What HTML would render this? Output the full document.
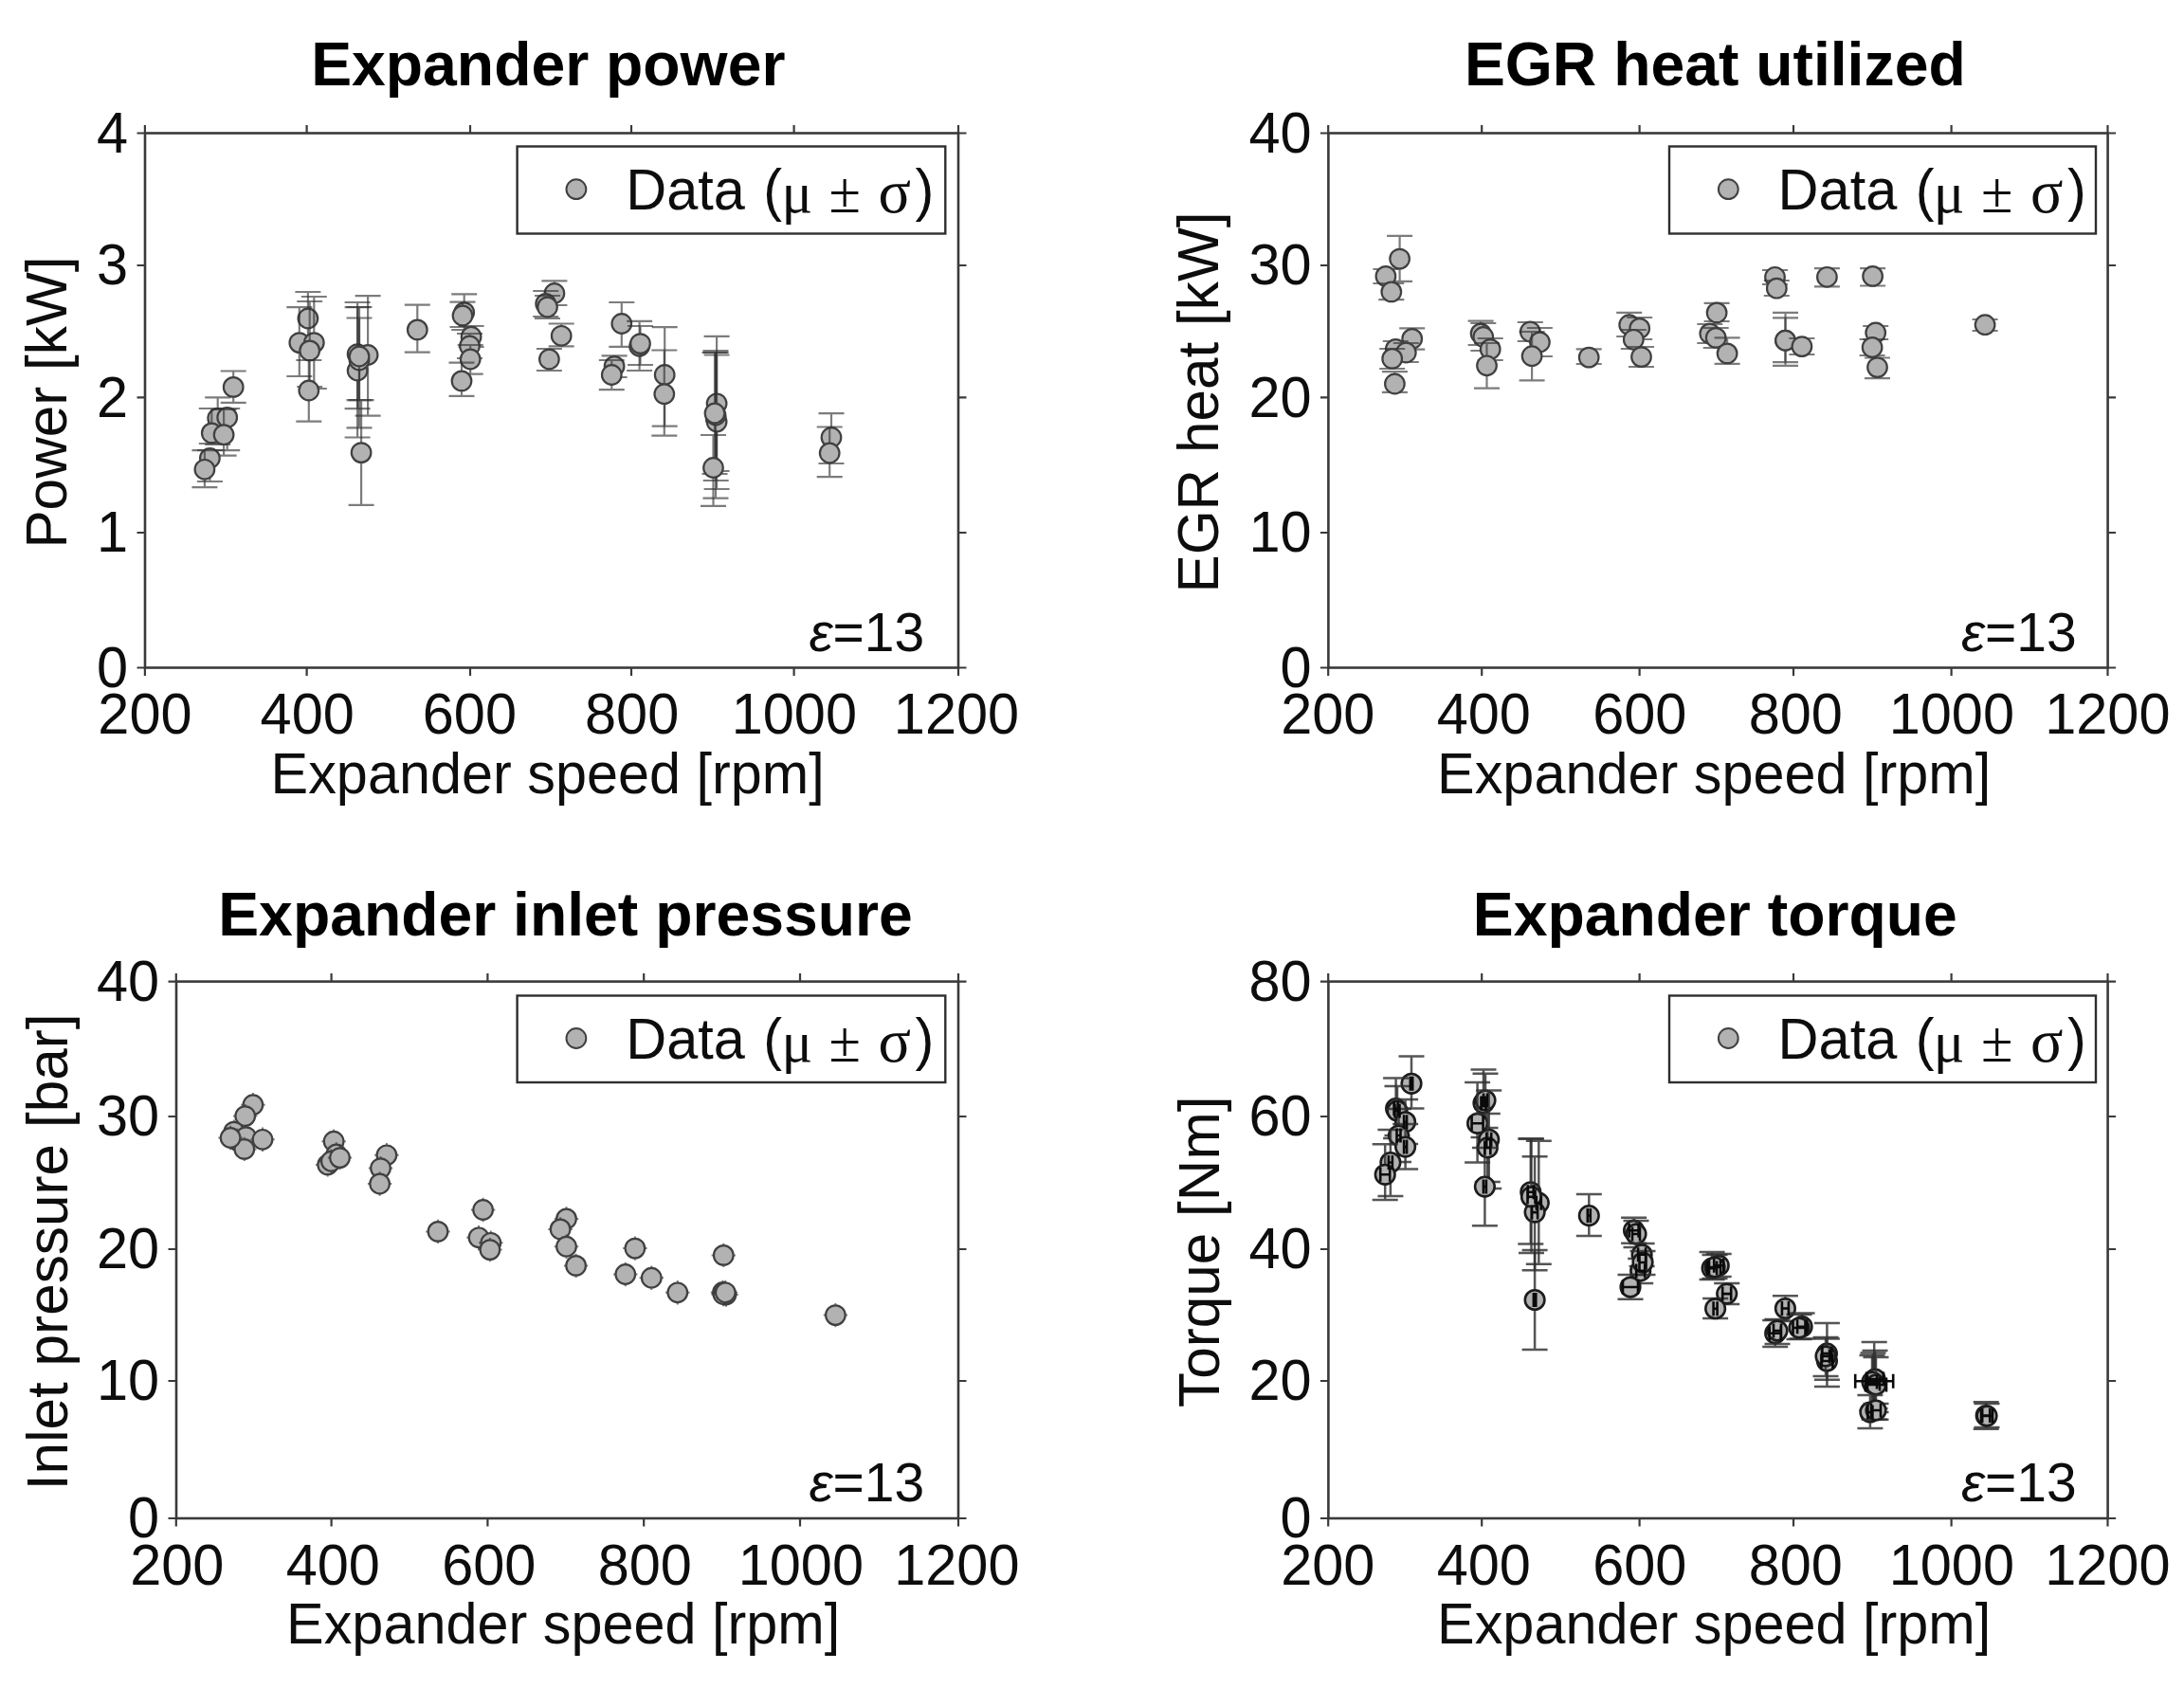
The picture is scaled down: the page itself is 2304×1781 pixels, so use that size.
<!DOCTYPE html>
<html lang="en"><head><meta charset="utf-8"><title>Expander measurements</title>
<style>html,body{margin:0;padding:0;background:#fff}body{width:2304px;height:1781px;overflow:hidden}svg{display:block;font-family:"Liberation Sans",sans-serif}</style>
</head><body>
<svg width="2304" height="1781" viewBox="0 0 2304 1781">
<rect width="2304" height="1781" fill="#fff"/>
<g id="plot-power">
<path d="M246.2 391.5V424.8M232.7 391.5h27M232.7 424.8h27" stroke="#303030" stroke-opacity="0.63" stroke-width="2.2" fill="none"/><circle cx="246.2" cy="408.4" r="10.3" fill="#b2b2b2" stroke="#404040" stroke-width="2.2"/>
<path d="M229.7 419.3V469M216.2 419.3h27M216.2 469h27" stroke="#303030" stroke-opacity="0.63" stroke-width="2.2" fill="none"/><circle cx="229.7" cy="441.3" r="10.3" fill="#b2b2b2" stroke="#404040" stroke-width="2.2"/>
<path d="M239.7 431V475.2M226.2 431h27M226.2 475.2h27" stroke="#303030" stroke-opacity="0.63" stroke-width="2.2" fill="none"/><circle cx="239.7" cy="440.4" r="10.3" fill="#b2b2b2" stroke="#404040" stroke-width="2.2"/>
<path d="M223.3 431V468M209.8 431h27M209.8 468h27" stroke="#303030" stroke-opacity="0.63" stroke-width="2.2" fill="none"/><circle cx="223.3" cy="456.9" r="10.3" fill="#b2b2b2" stroke="#404040" stroke-width="2.2"/>
<path d="M236.1 432V480.7M222.6 432h27M222.6 480.7h27" stroke="#303030" stroke-opacity="0.63" stroke-width="2.2" fill="none"/><circle cx="236.1" cy="458.7" r="10.3" fill="#b2b2b2" stroke="#404040" stroke-width="2.2"/>
<path d="M221.4 475V508M207.9 475h27M207.9 508h27" stroke="#303030" stroke-opacity="0.63" stroke-width="2.2" fill="none"/><circle cx="221.4" cy="483.4" r="10.3" fill="#b2b2b2" stroke="#404040" stroke-width="2.2"/>
<path d="M215.9 475.2V514.2M202.4 475.2h27M202.4 514.2h27" stroke="#303030" stroke-opacity="0.63" stroke-width="2.2" fill="none"/><circle cx="215.9" cy="495.3" r="10.3" fill="#b2b2b2" stroke="#404040" stroke-width="2.2"/>
<path d="M324.9 308V365M311.4 308h27M311.4 365h27" stroke="#303030" stroke-opacity="0.63" stroke-width="2.2" fill="none"/><circle cx="324.9" cy="336" r="10.3" fill="#b2b2b2" stroke="#404040" stroke-width="2.2"/>
<path d="M315.8 324.1V397M302.3 324.1h27M302.3 397h27" stroke="#303030" stroke-opacity="0.63" stroke-width="2.2" fill="none"/><circle cx="315.8" cy="361.6" r="10.3" fill="#b2b2b2" stroke="#404040" stroke-width="2.2"/>
<path d="M331.3 313V410M317.8 313h27M317.8 410h27" stroke="#303030" stroke-opacity="0.63" stroke-width="2.2" fill="none"/><circle cx="331.3" cy="361.6" r="10.3" fill="#b2b2b2" stroke="#404040" stroke-width="2.2"/>
<path d="M326.7 318V408M313.2 318h27M313.2 408h27" stroke="#303030" stroke-opacity="0.63" stroke-width="2.2" fill="none"/><circle cx="326.7" cy="369.9" r="10.3" fill="#b2b2b2" stroke="#404040" stroke-width="2.2"/>
<path d="M325.8 380V444.6M312.3 380h27M312.3 444.6h27" stroke="#303030" stroke-opacity="0.63" stroke-width="2.2" fill="none"/><circle cx="325.8" cy="412" r="10.3" fill="#b2b2b2" stroke="#404040" stroke-width="2.2"/>
<path d="M377.1 319V431.2M363.6 319h27M363.6 431.2h27" stroke="#303030" stroke-opacity="0.63" stroke-width="2.2" fill="none"/><circle cx="377.1" cy="373.6" r="10.3" fill="#b2b2b2" stroke="#404040" stroke-width="2.2"/>
<path d="M388.1 312.2V438.6M374.6 312.2h27M374.6 438.6h27" stroke="#303030" stroke-opacity="0.63" stroke-width="2.2" fill="none"/><circle cx="388.1" cy="374.5" r="10.3" fill="#b2b2b2" stroke="#404040" stroke-width="2.2"/>
<path d="M377.1 324.1V461.5M363.6 324.1h27M363.6 461.5h27" stroke="#303030" stroke-opacity="0.63" stroke-width="2.2" fill="none"/><circle cx="377.1" cy="391" r="10.3" fill="#b2b2b2" stroke="#404040" stroke-width="2.2"/>
<path d="M379 335.5V422.1M365.5 335.5h27M365.5 422.1h27" stroke="#303030" stroke-opacity="0.63" stroke-width="2.2" fill="none"/><circle cx="379" cy="380" r="10.3" fill="#b2b2b2" stroke="#404040" stroke-width="2.2"/>
<path d="M379 324V451.4M365.5 324h27M365.5 451.4h27" stroke="#303030" stroke-opacity="0.63" stroke-width="2.2" fill="none"/><circle cx="379" cy="376" r="10.3" fill="#b2b2b2" stroke="#404040" stroke-width="2.2"/>
<path d="M381.1 422.1V532.9M367.6 422.1h27M367.6 532.9h27" stroke="#303030" stroke-opacity="0.63" stroke-width="2.2" fill="none"/><circle cx="381.1" cy="477.6" r="10.3" fill="#b2b2b2" stroke="#404040" stroke-width="2.2"/>
<path d="M440.3 321.7V371.7M426.8 321.7h27M426.8 371.7h27" stroke="#303030" stroke-opacity="0.63" stroke-width="2.2" fill="none"/><circle cx="440.3" cy="347.9" r="10.3" fill="#b2b2b2" stroke="#404040" stroke-width="2.2"/>
<path d="M489.7 310.4V348M476.2 310.4h27M476.2 348h27" stroke="#303030" stroke-opacity="0.63" stroke-width="2.2" fill="none"/><circle cx="489.7" cy="329.6" r="10.3" fill="#b2b2b2" stroke="#404040" stroke-width="2.2"/>
<path d="M488 318.6V345M474.5 318.6h27M474.5 345h27" stroke="#303030" stroke-opacity="0.63" stroke-width="2.2" fill="none"/><circle cx="488" cy="333" r="10.3" fill="#b2b2b2" stroke="#404040" stroke-width="2.2"/>
<path d="M497.1 344V366M483.6 344h27M483.6 366h27" stroke="#303030" stroke-opacity="0.63" stroke-width="2.2" fill="none"/><circle cx="497.1" cy="355.2" r="10.3" fill="#b2b2b2" stroke="#404040" stroke-width="2.2"/>
<path d="M495.5 352V378M482 352h27M482 378h27" stroke="#303030" stroke-opacity="0.63" stroke-width="2.2" fill="none"/><circle cx="495.5" cy="365" r="10.3" fill="#b2b2b2" stroke="#404040" stroke-width="2.2"/>
<path d="M496.2 364V394.6M482.7 364h27M482.7 394.6h27" stroke="#303030" stroke-opacity="0.63" stroke-width="2.2" fill="none"/><circle cx="496.2" cy="379" r="10.3" fill="#b2b2b2" stroke="#404040" stroke-width="2.2"/>
<path d="M487 382.7V417.9M473.5 382.7h27M473.5 417.9h27" stroke="#303030" stroke-opacity="0.63" stroke-width="2.2" fill="none"/><circle cx="487" cy="401.9" r="10.3" fill="#b2b2b2" stroke="#404040" stroke-width="2.2"/>
<path d="M584.9 296.3V322M571.4 296.3h27M571.4 322h27" stroke="#303030" stroke-opacity="0.63" stroke-width="2.2" fill="none"/><circle cx="584.9" cy="309.5" r="10.3" fill="#b2b2b2" stroke="#404040" stroke-width="2.2"/>
<path d="M575.7 307V334M562.2 307h27M562.2 334h27" stroke="#303030" stroke-opacity="0.63" stroke-width="2.2" fill="none"/><circle cx="575.7" cy="320.4" r="10.3" fill="#b2b2b2" stroke="#404040" stroke-width="2.2"/>
<path d="M577.5 312V336M564 312h27M564 336h27" stroke="#303030" stroke-opacity="0.63" stroke-width="2.2" fill="none"/><circle cx="577.5" cy="324" r="10.3" fill="#b2b2b2" stroke="#404040" stroke-width="2.2"/>
<path d="M592.2 341.5V365.3M578.7 341.5h27M578.7 365.3h27" stroke="#303030" stroke-opacity="0.63" stroke-width="2.2" fill="none"/><circle cx="592.2" cy="354.3" r="10.3" fill="#b2b2b2" stroke="#404040" stroke-width="2.2"/>
<path d="M579.4 368V391M565.9 368h27M565.9 391h27" stroke="#303030" stroke-opacity="0.63" stroke-width="2.2" fill="none"/><circle cx="579.4" cy="379" r="10.3" fill="#b2b2b2" stroke="#404040" stroke-width="2.2"/>
<path d="M655.8 319V365.9M642.3 319h27M642.3 365.9h27" stroke="#303030" stroke-opacity="0.63" stroke-width="2.2" fill="none"/><circle cx="655.8" cy="341.5" r="10.3" fill="#b2b2b2" stroke="#404040" stroke-width="2.2"/>
<path d="M674.6 338.8V391M661.1 338.8h27M661.1 391h27" stroke="#303030" stroke-opacity="0.63" stroke-width="2.2" fill="none"/><circle cx="674.6" cy="365.3" r="10.3" fill="#b2b2b2" stroke="#404040" stroke-width="2.2"/>
<path d="M675.5 344V385M662 344h27M662 385h27" stroke="#303030" stroke-opacity="0.63" stroke-width="2.2" fill="none"/><circle cx="675.5" cy="362.6" r="10.3" fill="#b2b2b2" stroke="#404040" stroke-width="2.2"/>
<path d="M648.1 375.4V398M634.6 375.4h27M634.6 398h27" stroke="#303030" stroke-opacity="0.63" stroke-width="2.2" fill="none"/><circle cx="648.1" cy="386.4" r="10.3" fill="#b2b2b2" stroke="#404040" stroke-width="2.2"/>
<path d="M645.3 380V411.1M631.8 380h27M631.8 411.1h27" stroke="#303030" stroke-opacity="0.63" stroke-width="2.2" fill="none"/><circle cx="645.3" cy="395.5" r="10.3" fill="#b2b2b2" stroke="#404040" stroke-width="2.2"/>
<path d="M701.2 345.2V449.6M687.7 345.2h27M687.7 449.6h27" stroke="#303030" stroke-opacity="0.63" stroke-width="2.2" fill="none"/><circle cx="701.2" cy="395.5" r="10.3" fill="#b2b2b2" stroke="#404040" stroke-width="2.2"/>
<path d="M700.8 369.5V459.6M687.3 369.5h27M687.3 459.6h27" stroke="#303030" stroke-opacity="0.63" stroke-width="2.2" fill="none"/><circle cx="700.8" cy="415.7" r="10.3" fill="#b2b2b2" stroke="#404040" stroke-width="2.2"/>
<path d="M756.1 354.9V497M742.6 354.9h27M742.6 497h27" stroke="#303030" stroke-opacity="0.63" stroke-width="2.2" fill="none"/><circle cx="756.1" cy="425.8" r="10.3" fill="#b2b2b2" stroke="#404040" stroke-width="2.2"/>
<path d="M755.2 372V507M741.7 372h27M741.7 507h27" stroke="#303030" stroke-opacity="0.63" stroke-width="2.2" fill="none"/><circle cx="755.2" cy="441.3" r="10.3" fill="#b2b2b2" stroke="#404040" stroke-width="2.2"/>
<path d="M756.1 374.5V516M742.6 374.5h27M742.6 516h27" stroke="#303030" stroke-opacity="0.63" stroke-width="2.2" fill="none"/><circle cx="756.1" cy="445" r="10.3" fill="#b2b2b2" stroke="#404040" stroke-width="2.2"/>
<path d="M755 370V525.6M741.5 370h27M741.5 525.6h27" stroke="#303030" stroke-opacity="0.63" stroke-width="2.2" fill="none"/><circle cx="755" cy="438" r="10.3" fill="#b2b2b2" stroke="#404040" stroke-width="2.2"/>
<path d="M754 372V500M740.5 372h27M740.5 500h27" stroke="#303030" stroke-opacity="0.63" stroke-width="2.2" fill="none"/><circle cx="754" cy="436" r="10.3" fill="#b2b2b2" stroke="#404040" stroke-width="2.2"/>
<path d="M752.5 459V533.8M739 459h27M739 533.8h27" stroke="#303030" stroke-opacity="0.63" stroke-width="2.2" fill="none"/><circle cx="752.5" cy="493.5" r="10.3" fill="#b2b2b2" stroke="#404040" stroke-width="2.2"/>
<path d="M877 436.2V489M863.5 436.2h27M863.5 489h27" stroke="#303030" stroke-opacity="0.63" stroke-width="2.2" fill="none"/><circle cx="877" cy="461.5" r="10.3" fill="#b2b2b2" stroke="#404040" stroke-width="2.2"/>
<path d="M875.2 450.5V503.2M861.7 450.5h27M861.7 503.2h27" stroke="#303030" stroke-opacity="0.63" stroke-width="2.2" fill="none"/><circle cx="875.2" cy="478" r="10.3" fill="#b2b2b2" stroke="#404040" stroke-width="2.2"/>
<rect x="153" y="140.5" width="858" height="564" fill="none" stroke="#3a3a3a" stroke-width="2.6"/>
<path d="M152.9 704.5v8.5M152.9 140.5v-8.5M323.6 704.5v8.5M323.6 140.5v-8.5M496 704.5v8.5M496 140.5v-8.5M666 704.5v8.5M666 140.5v-8.5M837.6 704.5v8.5M837.6 140.5v-8.5M1011 704.5v8.5M1011 140.5v-8.5M153 704.5h-8.5M1011 704.5h8.5M153 562h-8.5M1011 562h8.5M153 419.3h-8.5M1011 419.3h8.5M153 280h-8.5M1011 280h8.5M153 140.5h-8.5M1011 140.5h8.5" stroke="#3a3a3a" stroke-width="2.2" fill="none"/>
<text transform="translate(153 774.1) scale(1 1.015)" font-size="59.5" fill="#0d0d0d" text-anchor="middle">200</text>
<text transform="translate(324.2 774.1) scale(1 1.015)" font-size="59.5" fill="#0d0d0d" text-anchor="middle">400</text>
<text transform="translate(495.4 774.1) scale(1 1.015)" font-size="59.5" fill="#0d0d0d" text-anchor="middle">600</text>
<text transform="translate(666.6 774.1) scale(1 1.015)" font-size="59.5" fill="#0d0d0d" text-anchor="middle">800</text>
<text transform="translate(837.8 774.1) scale(1 1.015)" font-size="59.5" fill="#0d0d0d" text-anchor="middle">1000</text>
<text transform="translate(1009 774.1) scale(1 1.015)" font-size="59.5" fill="#0d0d0d" text-anchor="middle">1200</text>
<text transform="translate(135.2 724.9) scale(1 1.015)" font-size="59.5" fill="#0d0d0d" text-anchor="end">0</text>
<text transform="translate(135.2 582.4) scale(1 1.015)" font-size="59.5" fill="#0d0d0d" text-anchor="end">1</text>
<text transform="translate(135.2 439.7) scale(1 1.015)" font-size="59.5" fill="#0d0d0d" text-anchor="end">2</text>
<text transform="translate(135.2 300.4) scale(1 1.015)" font-size="59.5" fill="#0d0d0d" text-anchor="end">3</text>
<text transform="translate(135.2 160.9) scale(1 1.015)" font-size="59.5" fill="#0d0d0d" text-anchor="end">4</text>
<text transform="translate(577.7 836.5) scale(1 1.015)" font-size="59.4" fill="#0d0d0d" text-anchor="middle">Expander speed [rpm]</text>
<text transform="translate(578.3 89.5)" font-size="64.3" fill="#000" text-anchor="middle" font-weight="bold">Expander power</text>
<text transform="translate(70.4 424.5) rotate(-90) scale(1 1.015)" font-size="60.3" fill="#0d0d0d" text-anchor="middle">Power [kW]</text>
<rect x="545.6" y="154.5" width="451.7" height="92" fill="#fff" stroke="#2e2e2e" stroke-width="2.4"/>
<circle cx="607.9" cy="199.7" r="10.4" fill="#b2b2b2" stroke="#404040" stroke-width="2"/>
<text transform="translate(545.6 221.4) scale(1 1.015)" font-size="59.5" fill="#0d0d0d"><tspan x="114.6" y="0">Data </tspan><tspan x="259.7" y="0">(</tspan><tspan x="278.8" y="2.5" font-family="'Liberation Serif', 'DejaVu Serif', serif" font-size="61">μ </tspan><tspan x="329" y="2.5" font-family="'Liberation Serif', 'DejaVu Serif', serif" font-size="61">± </tspan><tspan x="381" y="2.5" font-family="'Liberation Serif', 'DejaVu Serif', serif" font-size="64">σ</tspan><tspan x="420" y="0">)</tspan></text>
<text transform="translate(975.1 686.8) scale(1 1.015)" font-size="57" fill="#0d0d0d" text-anchor="end"><tspan font-style="italic">ε</tspan>=13</text>
</g>
<g id="plot-egr">
<path d="M1476.6 248.9V296.9M1463.1 248.9h27M1463.1 296.9h27" stroke="#303030" stroke-opacity="0.63" stroke-width="2.2" fill="none"/><circle cx="1476.6" cy="273.1" r="10.3" fill="#b2b2b2" stroke="#404040" stroke-width="2.2"/>
<path d="M1461.9 284V299M1448.4 284h27M1448.4 299h27" stroke="#303030" stroke-opacity="0.63" stroke-width="2.2" fill="none"/><circle cx="1461.9" cy="291.4" r="10.3" fill="#b2b2b2" stroke="#404040" stroke-width="2.2"/>
<path d="M1467.8 299V316.2M1454.3 299h27M1454.3 316.2h27" stroke="#303030" stroke-opacity="0.63" stroke-width="2.2" fill="none"/><circle cx="1467.8" cy="307.9" r="10.3" fill="#b2b2b2" stroke="#404040" stroke-width="2.2"/>
<path d="M1489.7 346.4V368.7M1476.2 346.4h27M1476.2 368.7h27" stroke="#303030" stroke-opacity="0.63" stroke-width="2.2" fill="none"/><circle cx="1489.7" cy="357.4" r="10.3" fill="#b2b2b2" stroke="#404040" stroke-width="2.2"/>
<path d="M1472.3 360V377M1458.8 360h27M1458.8 377h27" stroke="#303030" stroke-opacity="0.63" stroke-width="2.2" fill="none"/><circle cx="1472.3" cy="368.4" r="10.3" fill="#b2b2b2" stroke="#404040" stroke-width="2.2"/>
<path d="M1483.3 362V382M1469.8 362h27M1469.8 382h27" stroke="#303030" stroke-opacity="0.63" stroke-width="2.2" fill="none"/><circle cx="1483.3" cy="372" r="10.3" fill="#b2b2b2" stroke="#404040" stroke-width="2.2"/>
<path d="M1468.7 368V389M1455.2 368h27M1455.2 389h27" stroke="#303030" stroke-opacity="0.63" stroke-width="2.2" fill="none"/><circle cx="1468.7" cy="378.4" r="10.3" fill="#b2b2b2" stroke="#404040" stroke-width="2.2"/>
<path d="M1471.4 392.2V413.8M1457.9 392.2h27M1457.9 413.8h27" stroke="#303030" stroke-opacity="0.63" stroke-width="2.2" fill="none"/><circle cx="1471.4" cy="405" r="10.3" fill="#b2b2b2" stroke="#404040" stroke-width="2.2"/>
<path d="M1562.1 338.7V364M1548.6 338.7h27M1548.6 364h27" stroke="#303030" stroke-opacity="0.63" stroke-width="2.2" fill="none"/><circle cx="1562.1" cy="351.9" r="10.3" fill="#b2b2b2" stroke="#404040" stroke-width="2.2"/>
<path d="M1564.8 341V370M1551.3 341h27M1551.3 370h27" stroke="#303030" stroke-opacity="0.63" stroke-width="2.2" fill="none"/><circle cx="1564.8" cy="355.5" r="10.3" fill="#b2b2b2" stroke="#404040" stroke-width="2.2"/>
<path d="M1572.2 357V380M1558.7 357h27M1558.7 380h27" stroke="#303030" stroke-opacity="0.63" stroke-width="2.2" fill="none"/><circle cx="1572.2" cy="368.4" r="10.3" fill="#b2b2b2" stroke="#404040" stroke-width="2.2"/>
<path d="M1568.5 362V409.6M1555 362h27M1555 409.6h27" stroke="#303030" stroke-opacity="0.63" stroke-width="2.2" fill="none"/><circle cx="1568.5" cy="385.8" r="10.3" fill="#b2b2b2" stroke="#404040" stroke-width="2.2"/>
<path d="M1614.3 340V360M1600.8 340h27M1600.8 360h27" stroke="#303030" stroke-opacity="0.63" stroke-width="2.2" fill="none"/><circle cx="1614.3" cy="350" r="10.3" fill="#b2b2b2" stroke="#404040" stroke-width="2.2"/>
<path d="M1624.4 346V376M1610.9 346h27M1610.9 376h27" stroke="#303030" stroke-opacity="0.63" stroke-width="2.2" fill="none"/><circle cx="1624.4" cy="361" r="10.3" fill="#b2b2b2" stroke="#404040" stroke-width="2.2"/>
<path d="M1616.1 350V401.3M1602.6 350h27M1602.6 401.3h27" stroke="#303030" stroke-opacity="0.63" stroke-width="2.2" fill="none"/><circle cx="1616.1" cy="375.7" r="10.3" fill="#b2b2b2" stroke="#404040" stroke-width="2.2"/>
<path d="M1676.2 368.4V384M1662.7 368.4h27M1662.7 384h27" stroke="#303030" stroke-opacity="0.63" stroke-width="2.2" fill="none"/><circle cx="1676.2" cy="377.1" r="10.3" fill="#b2b2b2" stroke="#404040" stroke-width="2.2"/>
<path d="M1718.7 329.9V355M1705.2 329.9h27M1705.2 355h27" stroke="#303030" stroke-opacity="0.63" stroke-width="2.2" fill="none"/><circle cx="1718.7" cy="342.7" r="10.3" fill="#b2b2b2" stroke="#404040" stroke-width="2.2"/>
<path d="M1729.7 335V358M1716.2 335h27M1716.2 358h27" stroke="#303030" stroke-opacity="0.63" stroke-width="2.2" fill="none"/><circle cx="1729.7" cy="346.4" r="10.3" fill="#b2b2b2" stroke="#404040" stroke-width="2.2"/>
<path d="M1723.3 348V368M1709.8 348h27M1709.8 368h27" stroke="#303030" stroke-opacity="0.63" stroke-width="2.2" fill="none"/><circle cx="1723.3" cy="358.3" r="10.3" fill="#b2b2b2" stroke="#404040" stroke-width="2.2"/>
<path d="M1731.5 366V387M1718 366h27M1718 387h27" stroke="#303030" stroke-opacity="0.63" stroke-width="2.2" fill="none"/><circle cx="1731.5" cy="376.6" r="10.3" fill="#b2b2b2" stroke="#404040" stroke-width="2.2"/>
<path d="M1811.1 319.8V339M1797.6 319.8h27M1797.6 339h27" stroke="#303030" stroke-opacity="0.63" stroke-width="2.2" fill="none"/><circle cx="1811.1" cy="329.9" r="10.3" fill="#b2b2b2" stroke="#404040" stroke-width="2.2"/>
<path d="M1803.8 342V362M1790.3 342h27M1790.3 362h27" stroke="#303030" stroke-opacity="0.63" stroke-width="2.2" fill="none"/><circle cx="1803.8" cy="351.9" r="10.3" fill="#b2b2b2" stroke="#404040" stroke-width="2.2"/>
<path d="M1810.2 346V367M1796.7 346h27M1796.7 367h27" stroke="#303030" stroke-opacity="0.63" stroke-width="2.2" fill="none"/><circle cx="1810.2" cy="356.4" r="10.3" fill="#b2b2b2" stroke="#404040" stroke-width="2.2"/>
<path d="M1822.1 356.4V383.9M1808.6 356.4h27M1808.6 383.9h27" stroke="#303030" stroke-opacity="0.63" stroke-width="2.2" fill="none"/><circle cx="1822.1" cy="372.9" r="10.3" fill="#b2b2b2" stroke="#404040" stroke-width="2.2"/>
<path d="M1872.5 285V300M1859 285h27M1859 300h27" stroke="#303030" stroke-opacity="0.63" stroke-width="2.2" fill="none"/><circle cx="1872.5" cy="292.3" r="10.3" fill="#b2b2b2" stroke="#404040" stroke-width="2.2"/>
<path d="M1874.3 296V312M1860.8 296h27M1860.8 312h27" stroke="#303030" stroke-opacity="0.63" stroke-width="2.2" fill="none"/><circle cx="1874.3" cy="304.2" r="10.3" fill="#b2b2b2" stroke="#404040" stroke-width="2.2"/>
<path d="M1883.5 329.9V385.8M1870 329.9h27M1870 385.8h27" stroke="#303030" stroke-opacity="0.63" stroke-width="2.2" fill="none"/><circle cx="1883.5" cy="359.2" r="10.3" fill="#b2b2b2" stroke="#404040" stroke-width="2.2"/>
<path d="M1883.5 335.4V382.1M1870 335.4h27M1870 382.1h27" stroke="#303030" stroke-opacity="0.63" stroke-width="2.2" fill="none"/><circle cx="1883.5" cy="359.2" r="10.3" fill="#b2b2b2" stroke="#404040" stroke-width="2.2"/>
<path d="M1900.9 357V374M1887.4 357h27M1887.4 374h27" stroke="#303030" stroke-opacity="0.63" stroke-width="2.2" fill="none"/><circle cx="1900.9" cy="365.6" r="10.3" fill="#b2b2b2" stroke="#404040" stroke-width="2.2"/>
<path d="M1927.4 283.2V302.4M1913.9 283.2h27M1913.9 302.4h27" stroke="#303030" stroke-opacity="0.63" stroke-width="2.2" fill="none"/><circle cx="1927.4" cy="292.3" r="10.3" fill="#b2b2b2" stroke="#404040" stroke-width="2.2"/>
<path d="M1975.6 283.2V301.5M1962.1 283.2h27M1962.1 301.5h27" stroke="#303030" stroke-opacity="0.63" stroke-width="2.2" fill="none"/><circle cx="1975.6" cy="291.4" r="10.3" fill="#b2b2b2" stroke="#404040" stroke-width="2.2"/>
<path d="M1978.7 344V358M1965.2 344h27M1965.2 358h27" stroke="#303030" stroke-opacity="0.63" stroke-width="2.2" fill="none"/><circle cx="1978.7" cy="351" r="10.3" fill="#b2b2b2" stroke="#404040" stroke-width="2.2"/>
<path d="M1975.1 358V375M1961.6 358h27M1961.6 375h27" stroke="#303030" stroke-opacity="0.63" stroke-width="2.2" fill="none"/><circle cx="1975.1" cy="366.5" r="10.3" fill="#b2b2b2" stroke="#404040" stroke-width="2.2"/>
<path d="M1980.5 377.5V399.1M1967 377.5h27M1967 399.1h27" stroke="#303030" stroke-opacity="0.63" stroke-width="2.2" fill="none"/><circle cx="1980.5" cy="387.6" r="10.3" fill="#b2b2b2" stroke="#404040" stroke-width="2.2"/>
<path d="M2094.1 337V349M2080.6 337h27M2080.6 349h27" stroke="#303030" stroke-opacity="0.63" stroke-width="2.2" fill="none"/><circle cx="2094.1" cy="342.7" r="10.3" fill="#b2b2b2" stroke="#404040" stroke-width="2.2"/>
<rect x="1401.4" y="140.5" width="822.2" height="564" fill="none" stroke="#3a3a3a" stroke-width="2.6"/>
<path d="M1401.2 704.5v8.5M1401.2 140.5v-8.5M1563.2 704.5v8.5M1563.2 140.5v-8.5M1729.6 704.5v8.5M1729.6 140.5v-8.5M1892 704.5v8.5M1892 140.5v-8.5M2058.6 704.5v8.5M2058.6 140.5v-8.5M2223.5 704.5v8.5M2223.5 140.5v-8.5M1401.4 704.5h-8.5M2223.6 704.5h8.5M1401.4 562h-8.5M2223.6 562h8.5M1401.4 419.3h-8.5M2223.6 419.3h8.5M1401.4 280h-8.5M2223.6 280h8.5M1401.4 140.5h-8.5M2223.6 140.5h8.5" stroke="#3a3a3a" stroke-width="2.2" fill="none"/>
<text transform="translate(1400.8 774.1) scale(1 1.015)" font-size="59.5" fill="#0d0d0d" text-anchor="middle">200</text>
<text transform="translate(1565.3 774.1) scale(1 1.015)" font-size="59.5" fill="#0d0d0d" text-anchor="middle">400</text>
<text transform="translate(1729.8 774.1) scale(1 1.015)" font-size="59.5" fill="#0d0d0d" text-anchor="middle">600</text>
<text transform="translate(1894.3 774.1) scale(1 1.015)" font-size="59.5" fill="#0d0d0d" text-anchor="middle">800</text>
<text transform="translate(2058.8 774.1) scale(1 1.015)" font-size="59.5" fill="#0d0d0d" text-anchor="middle">1000</text>
<text transform="translate(2223.3 774.1) scale(1 1.015)" font-size="59.5" fill="#0d0d0d" text-anchor="middle">1200</text>
<text transform="translate(1383.6 724.9) scale(1 1.015)" font-size="59.5" fill="#0d0d0d" text-anchor="end">0</text>
<text transform="translate(1383.6 582.4) scale(1 1.015)" font-size="59.5" fill="#0d0d0d" text-anchor="end">10</text>
<text transform="translate(1383.6 439.7) scale(1 1.015)" font-size="59.5" fill="#0d0d0d" text-anchor="end">20</text>
<text transform="translate(1383.6 300.4) scale(1 1.015)" font-size="59.5" fill="#0d0d0d" text-anchor="end">30</text>
<text transform="translate(1383.6 160.9) scale(1 1.015)" font-size="59.5" fill="#0d0d0d" text-anchor="end">40</text>
<text transform="translate(1808.2 836.5) scale(1 1.015)" font-size="59.4" fill="#0d0d0d" text-anchor="middle">Expander speed [rpm]</text>
<text transform="translate(1809.3 89.5)" font-size="64.3" fill="#000" text-anchor="middle" font-weight="bold">EGR heat utilized</text>
<text transform="translate(1285 424.5) rotate(-90) scale(1 1.015)" font-size="60.3" fill="#0d0d0d" text-anchor="middle">EGR heat [kW]</text>
<rect x="1761" y="154.5" width="450" height="92" fill="#fff" stroke="#2e2e2e" stroke-width="2.4"/>
<circle cx="1823.3" cy="199.7" r="10.4" fill="#b2b2b2" stroke="#404040" stroke-width="2"/>
<text transform="translate(1761 221.4) scale(1 1.015)" font-size="59.5" fill="#0d0d0d"><tspan x="114.6" y="0">Data </tspan><tspan x="259.7" y="0">(</tspan><tspan x="278.8" y="2.5" font-family="'Liberation Serif', 'DejaVu Serif', serif" font-size="61">μ </tspan><tspan x="329" y="2.5" font-family="'Liberation Serif', 'DejaVu Serif', serif" font-size="61">± </tspan><tspan x="381" y="2.5" font-family="'Liberation Serif', 'DejaVu Serif', serif" font-size="64">σ</tspan><tspan x="420" y="0">)</tspan></text>
<text transform="translate(2190.7 686.8) scale(1 1.015)" font-size="57" fill="#0d0d0d" text-anchor="end"><tspan font-style="italic">ε</tspan>=13</text>
</g>
<g id="plot-pressure">
<path d="M266.9 1153v25.4M254.2 1165.7h25.4" stroke="#303030" stroke-opacity="0.63" stroke-width="2" fill="none"/><circle cx="266.9" cy="1165.7" r="10.3" fill="#b2b2b2" stroke="#404040" stroke-width="2.2"/>
<path d="M258.7 1164.9v25.4M246 1177.6h25.4" stroke="#303030" stroke-opacity="0.63" stroke-width="2" fill="none"/><circle cx="258.7" cy="1177.6" r="10.3" fill="#b2b2b2" stroke="#404040" stroke-width="2.2"/>
<path d="M246.8 1181.4v25.4M234.1 1194.1h25.4" stroke="#303030" stroke-opacity="0.63" stroke-width="2" fill="none"/><circle cx="246.8" cy="1194.1" r="10.3" fill="#b2b2b2" stroke="#404040" stroke-width="2.2"/>
<path d="M250.4 1190.6v25.4M237.7 1203.3h25.4" stroke="#303030" stroke-opacity="0.63" stroke-width="2" fill="none"/><circle cx="250.4" cy="1203.3" r="10.3" fill="#b2b2b2" stroke="#404040" stroke-width="2.2"/>
<path d="M259.6 1186.9v25.4M246.9 1199.6h25.4" stroke="#303030" stroke-opacity="0.63" stroke-width="2" fill="none"/><circle cx="259.6" cy="1199.6" r="10.3" fill="#b2b2b2" stroke="#404040" stroke-width="2.2"/>
<path d="M257.8 1199.7v25.4M245.1 1212.4h25.4" stroke="#303030" stroke-opacity="0.63" stroke-width="2" fill="none"/><circle cx="257.8" cy="1212.4" r="10.3" fill="#b2b2b2" stroke="#404040" stroke-width="2.2"/>
<path d="M277 1189.6v25.4M264.3 1202.3h25.4" stroke="#303030" stroke-opacity="0.63" stroke-width="2" fill="none"/><circle cx="277" cy="1202.3" r="10.3" fill="#b2b2b2" stroke="#404040" stroke-width="2.2"/>
<path d="M243.1 1187.8v25.4M230.4 1200.5h25.4" stroke="#303030" stroke-opacity="0.63" stroke-width="2" fill="none"/><circle cx="243.1" cy="1200.5" r="10.3" fill="#b2b2b2" stroke="#404040" stroke-width="2.2"/>
<path d="M352.1 1191.5v25.4M339.4 1204.2h25.4" stroke="#303030" stroke-opacity="0.63" stroke-width="2" fill="none"/><circle cx="352.1" cy="1204.2" r="10.3" fill="#b2b2b2" stroke="#404040" stroke-width="2.2"/>
<path d="M354.8 1205.2v25.4M342.1 1217.9h25.4" stroke="#303030" stroke-opacity="0.63" stroke-width="2" fill="none"/><circle cx="354.8" cy="1217.9" r="10.3" fill="#b2b2b2" stroke="#404040" stroke-width="2.2"/>
<path d="M345.7 1216.2v25.4M333 1228.9h25.4" stroke="#303030" stroke-opacity="0.63" stroke-width="2" fill="none"/><circle cx="345.7" cy="1228.9" r="10.3" fill="#b2b2b2" stroke="#404040" stroke-width="2.2"/>
<path d="M349.4 1212.5v25.4M336.7 1225.2h25.4" stroke="#303030" stroke-opacity="0.63" stroke-width="2" fill="none"/><circle cx="349.4" cy="1225.2" r="10.3" fill="#b2b2b2" stroke="#404040" stroke-width="2.2"/>
<path d="M358.5 1208.9v25.4M345.8 1221.6h25.4" stroke="#303030" stroke-opacity="0.63" stroke-width="2" fill="none"/><circle cx="358.5" cy="1221.6" r="10.3" fill="#b2b2b2" stroke="#404040" stroke-width="2.2"/>
<path d="M407.9 1206.1v25.4M395.2 1218.8h25.4" stroke="#303030" stroke-opacity="0.63" stroke-width="2" fill="none"/><circle cx="407.9" cy="1218.8" r="10.3" fill="#b2b2b2" stroke="#404040" stroke-width="2.2"/>
<path d="M401.5 1219.9v25.4M388.8 1232.6h25.4" stroke="#303030" stroke-opacity="0.63" stroke-width="2" fill="none"/><circle cx="401.5" cy="1232.6" r="10.3" fill="#b2b2b2" stroke="#404040" stroke-width="2.2"/>
<path d="M400.6 1236.3v25.4M387.9 1249h25.4" stroke="#303030" stroke-opacity="0.63" stroke-width="2" fill="none"/><circle cx="400.6" cy="1249" r="10.3" fill="#b2b2b2" stroke="#404040" stroke-width="2.2"/>
<path d="M462 1286.7v25.4M449.3 1299.4h25.4" stroke="#303030" stroke-opacity="0.63" stroke-width="2" fill="none"/><circle cx="462" cy="1299.4" r="10.3" fill="#b2b2b2" stroke="#404040" stroke-width="2.2"/>
<path d="M509.6 1263.8v25.4M496.9 1276.5h25.4" stroke="#303030" stroke-opacity="0.63" stroke-width="2" fill="none"/><circle cx="509.6" cy="1276.5" r="10.3" fill="#b2b2b2" stroke="#404040" stroke-width="2.2"/>
<path d="M505 1293.1v25.4M492.3 1305.8h25.4" stroke="#303030" stroke-opacity="0.63" stroke-width="2" fill="none"/><circle cx="505" cy="1305.8" r="10.3" fill="#b2b2b2" stroke="#404040" stroke-width="2.2"/>
<path d="M517.8 1298.6v25.4M505.1 1311.3h25.4" stroke="#303030" stroke-opacity="0.63" stroke-width="2" fill="none"/><circle cx="517.8" cy="1311.3" r="10.3" fill="#b2b2b2" stroke="#404040" stroke-width="2.2"/>
<path d="M516.9 1305.9v25.4M504.2 1318.6h25.4" stroke="#303030" stroke-opacity="0.63" stroke-width="2" fill="none"/><circle cx="516.9" cy="1318.6" r="10.3" fill="#b2b2b2" stroke="#404040" stroke-width="2.2"/>
<path d="M597.5 1273.2v25.4M584.8 1285.9h25.4" stroke="#303030" stroke-opacity="0.63" stroke-width="2" fill="none"/><circle cx="597.5" cy="1285.9" r="10.3" fill="#b2b2b2" stroke="#404040" stroke-width="2.2"/>
<path d="M591.1 1284.2v25.4M578.4 1296.9h25.4" stroke="#303030" stroke-opacity="0.63" stroke-width="2" fill="none"/><circle cx="591.1" cy="1296.9" r="10.3" fill="#b2b2b2" stroke="#404040" stroke-width="2.2"/>
<path d="M597.5 1302.5v25.4M584.8 1315.2h25.4" stroke="#303030" stroke-opacity="0.63" stroke-width="2" fill="none"/><circle cx="597.5" cy="1315.2" r="10.3" fill="#b2b2b2" stroke="#404040" stroke-width="2.2"/>
<path d="M607.6 1322.7v25.4M594.9 1335.4h25.4" stroke="#303030" stroke-opacity="0.63" stroke-width="2" fill="none"/><circle cx="607.6" cy="1335.4" r="10.3" fill="#b2b2b2" stroke="#404040" stroke-width="2.2"/>
<path d="M669.9 1304.4v25.4M657.2 1317.1h25.4" stroke="#303030" stroke-opacity="0.63" stroke-width="2" fill="none"/><circle cx="669.9" cy="1317.1" r="10.3" fill="#b2b2b2" stroke="#404040" stroke-width="2.2"/>
<path d="M659.8 1331.8v25.4M647.1 1344.5h25.4" stroke="#303030" stroke-opacity="0.63" stroke-width="2" fill="none"/><circle cx="659.8" cy="1344.5" r="10.3" fill="#b2b2b2" stroke="#404040" stroke-width="2.2"/>
<path d="M687.3 1335.5v25.4M674.6 1348.2h25.4" stroke="#303030" stroke-opacity="0.63" stroke-width="2" fill="none"/><circle cx="687.3" cy="1348.2" r="10.3" fill="#b2b2b2" stroke="#404040" stroke-width="2.2"/>
<path d="M714.8 1351.1v25.4M702.1 1363.8h25.4" stroke="#303030" stroke-opacity="0.63" stroke-width="2" fill="none"/><circle cx="714.8" cy="1363.8" r="10.3" fill="#b2b2b2" stroke="#404040" stroke-width="2.2"/>
<path d="M763.3 1311.7v25.4M750.6 1324.4h25.4" stroke="#303030" stroke-opacity="0.63" stroke-width="2" fill="none"/><circle cx="763.3" cy="1324.4" r="10.3" fill="#b2b2b2" stroke="#404040" stroke-width="2.2"/>
<path d="M764.2 1352v25.4M751.5 1364.7h25.4" stroke="#303030" stroke-opacity="0.63" stroke-width="2" fill="none"/><circle cx="764.2" cy="1364.7" r="10.3" fill="#b2b2b2" stroke="#404040" stroke-width="2.2"/>
<path d="M762.5 1350.8v25.4M749.8 1363.5h25.4" stroke="#303030" stroke-opacity="0.63" stroke-width="2" fill="none"/><circle cx="762.5" cy="1363.5" r="10.3" fill="#b2b2b2" stroke="#404040" stroke-width="2.2"/>
<path d="M766 1353.3v25.4M753.3 1366h25.4" stroke="#303030" stroke-opacity="0.63" stroke-width="2" fill="none"/><circle cx="766" cy="1366" r="10.3" fill="#b2b2b2" stroke="#404040" stroke-width="2.2"/>
<path d="M763 1352.8v25.4M750.3 1365.5h25.4" stroke="#303030" stroke-opacity="0.63" stroke-width="2" fill="none"/><circle cx="763" cy="1365.5" r="10.3" fill="#b2b2b2" stroke="#404040" stroke-width="2.2"/>
<path d="M765.3 1351.1v25.4M752.6 1363.8h25.4" stroke="#303030" stroke-opacity="0.63" stroke-width="2" fill="none"/><circle cx="765.3" cy="1363.8" r="10.3" fill="#b2b2b2" stroke="#404040" stroke-width="2.2"/>
<path d="M881.4 1374.9v25.4M868.7 1387.6h25.4" stroke="#303030" stroke-opacity="0.63" stroke-width="2" fill="none"/><circle cx="881.4" cy="1387.6" r="10.3" fill="#b2b2b2" stroke="#404040" stroke-width="2.2"/>
<rect x="186" y="1035.6" width="825" height="566.4" fill="none" stroke="#3a3a3a" stroke-width="2.6"/>
<path d="M185.8 1602v8.5M185.8 1035.6v-8.5M349.6 1602v8.5M349.6 1035.6v-8.5M514.4 1602v8.5M514.4 1035.6v-8.5M679.2 1602v8.5M679.2 1035.6v-8.5M844 1602v8.5M844 1035.6v-8.5M1011 1602v8.5M1011 1035.6v-8.5M186 1602h-8.5M1011 1602h8.5M186 1457h-8.5M1011 1457h8.5M186 1318h-8.5M1011 1318h8.5M186 1178h-8.5M1011 1178h8.5M186 1035.6h-8.5M1011 1035.6h8.5" stroke="#3a3a3a" stroke-width="2.2" fill="none"/>
<text transform="translate(186.8 1671.6) scale(1 1.015)" font-size="59.5" fill="#0d0d0d" text-anchor="middle">200</text>
<text transform="translate(351.3 1671.6) scale(1 1.015)" font-size="59.5" fill="#0d0d0d" text-anchor="middle">400</text>
<text transform="translate(515.8 1671.6) scale(1 1.015)" font-size="59.5" fill="#0d0d0d" text-anchor="middle">600</text>
<text transform="translate(680.3 1671.6) scale(1 1.015)" font-size="59.5" fill="#0d0d0d" text-anchor="middle">800</text>
<text transform="translate(844.8 1671.6) scale(1 1.015)" font-size="59.5" fill="#0d0d0d" text-anchor="middle">1000</text>
<text transform="translate(1009.3 1671.6) scale(1 1.015)" font-size="59.5" fill="#0d0d0d" text-anchor="middle">1200</text>
<text transform="translate(168.2 1622.4) scale(1 1.015)" font-size="59.5" fill="#0d0d0d" text-anchor="end">0</text>
<text transform="translate(168.2 1477.4) scale(1 1.015)" font-size="59.5" fill="#0d0d0d" text-anchor="end">10</text>
<text transform="translate(168.2 1338.4) scale(1 1.015)" font-size="59.5" fill="#0d0d0d" text-anchor="end">20</text>
<text transform="translate(168.2 1198.4) scale(1 1.015)" font-size="59.5" fill="#0d0d0d" text-anchor="end">30</text>
<text transform="translate(168.2 1056) scale(1 1.015)" font-size="59.5" fill="#0d0d0d" text-anchor="end">40</text>
<text transform="translate(594.2 1734) scale(1 1.015)" font-size="59.4" fill="#0d0d0d" text-anchor="middle">Expander speed [rpm]</text>
<text transform="translate(596.5 987.4)" font-size="64.3" fill="#000" text-anchor="middle" font-weight="bold">Expander inlet pressure</text>
<text transform="translate(70.8 1320.8) rotate(-90) scale(1 1.015)" font-size="60.3" fill="#0d0d0d" text-anchor="middle">Inlet pressure [bar]</text>
<rect x="545.6" y="1050.5" width="451.7" height="91.5" fill="#fff" stroke="#2e2e2e" stroke-width="2.4"/>
<circle cx="607.9" cy="1095.5" r="10.4" fill="#b2b2b2" stroke="#404040" stroke-width="2"/>
<text transform="translate(545.6 1117.2) scale(1 1.015)" font-size="59.5" fill="#0d0d0d"><tspan x="114.6" y="0">Data </tspan><tspan x="259.7" y="0">(</tspan><tspan x="278.8" y="2.5" font-family="'Liberation Serif', 'DejaVu Serif', serif" font-size="61">μ </tspan><tspan x="329" y="2.5" font-family="'Liberation Serif', 'DejaVu Serif', serif" font-size="61">± </tspan><tspan x="381" y="2.5" font-family="'Liberation Serif', 'DejaVu Serif', serif" font-size="64">σ</tspan><tspan x="420" y="0">)</tspan></text>
<text transform="translate(975.1 1584) scale(1 1.015)" font-size="57" fill="#0d0d0d" text-anchor="end"><tspan font-style="italic">ε</tspan>=13</text>
</g>
<g id="plot-torque">
<path d="M1489 1114.5V1169.6M1475.5 1114.5h27M1475.5 1169.6h27" stroke="#303030" stroke-opacity="0.82" stroke-width="2.5" fill="none"/><circle cx="1489" cy="1143.3" r="10.3" fill="#b2b2b2" stroke="#1c1c1c" stroke-width="2.6"/>
<path d="M1472.6 1137.6V1201M1459.1 1137.6h27M1459.1 1201h27" stroke="#303030" stroke-opacity="0.82" stroke-width="2.5" fill="none"/><circle cx="1472.6" cy="1169.6" r="10.3" fill="#b2b2b2" stroke="#1c1c1c" stroke-width="2.6"/>
<path d="M1474 1146V1198M1460.5 1146h27M1460.5 1198h27" stroke="#303030" stroke-opacity="0.82" stroke-width="2.5" fill="none"/><circle cx="1474" cy="1172" r="10.3" fill="#b2b2b2" stroke="#1c1c1c" stroke-width="2.6"/>
<path d="M1482.6 1160V1207M1469.1 1160h27M1469.1 1207h27" stroke="#303030" stroke-opacity="0.82" stroke-width="2.5" fill="none"/><circle cx="1482.6" cy="1183.8" r="10.3" fill="#b2b2b2" stroke="#1c1c1c" stroke-width="2.6"/>
<path d="M1475.5 1170V1226M1462 1170h27M1462 1226h27" stroke="#303030" stroke-opacity="0.82" stroke-width="2.5" fill="none"/><circle cx="1475.5" cy="1198" r="10.3" fill="#b2b2b2" stroke="#1c1c1c" stroke-width="2.6"/>
<path d="M1482.6 1186V1233.6M1469.1 1186h27M1469.1 1233.6h27" stroke="#303030" stroke-opacity="0.82" stroke-width="2.5" fill="none"/><circle cx="1482.6" cy="1210.1" r="10.3" fill="#b2b2b2" stroke="#1c1c1c" stroke-width="2.6"/>
<path d="M1466.9 1192V1262M1453.4 1192h27M1453.4 1262h27" stroke="#303030" stroke-opacity="0.82" stroke-width="2.5" fill="none"/><circle cx="1466.9" cy="1226.5" r="10.3" fill="#b2b2b2" stroke="#1c1c1c" stroke-width="2.6"/>
<path d="M1461.2 1207.3V1266M1447.7 1207.3h27M1447.7 1266h27" stroke="#303030" stroke-opacity="0.82" stroke-width="2.5" fill="none"/><circle cx="1461.2" cy="1239.3" r="10.3" fill="#b2b2b2" stroke="#1c1c1c" stroke-width="2.6"/>
<path d="M1565 1128.4V1200M1551.5 1128.4h27M1551.5 1200h27" stroke="#303030" stroke-opacity="0.82" stroke-width="2.5" fill="none"/><circle cx="1565" cy="1163.9" r="10.3" fill="#b2b2b2" stroke="#1c1c1c" stroke-width="2.6"/>
<path d="M1567 1132.7V1190M1553.5 1132.7h27M1553.5 1190h27" stroke="#303030" stroke-opacity="0.82" stroke-width="2.5" fill="none"/><circle cx="1567" cy="1161" r="10.3" fill="#b2b2b2" stroke="#1c1c1c" stroke-width="2.6"/>
<path d="M1558.6 1141.9V1226.5M1545.1 1141.9h27M1545.1 1226.5h27" stroke="#303030" stroke-opacity="0.82" stroke-width="2.5" fill="none"/><circle cx="1558.6" cy="1185.3" r="10.3" fill="#b2b2b2" stroke="#1c1c1c" stroke-width="2.6"/>
<path d="M1570.7 1150.4V1254M1557.2 1150.4h27M1557.2 1254h27" stroke="#303030" stroke-opacity="0.82" stroke-width="2.5" fill="none"/><circle cx="1570.7" cy="1202.3" r="10.3" fill="#b2b2b2" stroke="#1c1c1c" stroke-width="2.6"/>
<path d="M1569.3 1175V1247M1555.8 1175h27M1555.8 1247h27" stroke="#303030" stroke-opacity="0.82" stroke-width="2.5" fill="none"/><circle cx="1569.3" cy="1210.9" r="10.3" fill="#b2b2b2" stroke="#1c1c1c" stroke-width="2.6"/>
<path d="M1566.4 1211V1293.3M1552.9 1211h27M1552.9 1293.3h27" stroke="#303030" stroke-opacity="0.82" stroke-width="2.5" fill="none"/><circle cx="1566.4" cy="1252.1" r="10.3" fill="#b2b2b2" stroke="#1c1c1c" stroke-width="2.6"/>
<path d="M1614.8 1201.6V1312.5M1601.3 1201.6h27M1601.3 1312.5h27" stroke="#303030" stroke-opacity="0.82" stroke-width="2.5" fill="none"/><circle cx="1614.8" cy="1257.8" r="10.3" fill="#b2b2b2" stroke="#1c1c1c" stroke-width="2.6"/>
<path d="M1623.3 1203.7V1333.8M1609.8 1203.7h27M1609.8 1333.8h27" stroke="#303030" stroke-opacity="0.82" stroke-width="2.5" fill="none"/><circle cx="1623.3" cy="1269.2" r="10.3" fill="#b2b2b2" stroke="#1c1c1c" stroke-width="2.6"/>
<path d="M1619.1 1220.2V1340.2M1605.6 1220.2h27M1605.6 1340.2h27" stroke="#303030" stroke-opacity="0.82" stroke-width="2.5" fill="none"/><circle cx="1619.1" cy="1279.1" r="10.3" fill="#b2b2b2" stroke="#1c1c1c" stroke-width="2.6"/>
<path d="M1615.5 1201.6V1322M1602 1201.6h27M1602 1322h27" stroke="#303030" stroke-opacity="0.82" stroke-width="2.5" fill="none"/><circle cx="1615.5" cy="1262.7" r="10.3" fill="#b2b2b2" stroke="#1c1c1c" stroke-width="2.6"/>
<path d="M1619.1 1319V1424M1605.6 1319h27M1605.6 1424h27" stroke="#303030" stroke-opacity="0.82" stroke-width="2.5" fill="none"/><circle cx="1619.1" cy="1371.5" r="10.3" fill="#b2b2b2" stroke="#1c1c1c" stroke-width="2.6"/>
<path d="M1676.3 1259.9V1304M1662.8 1259.9h27M1662.8 1304h27" stroke="#303030" stroke-opacity="0.82" stroke-width="2.5" fill="none"/><circle cx="1676.3" cy="1282.6" r="10.3" fill="#b2b2b2" stroke="#1c1c1c" stroke-width="2.6"/>
<path d="M1723.6 1284.7V1311.8M1710.1 1284.7h27M1710.1 1311.8h27" stroke="#303030" stroke-opacity="0.82" stroke-width="2.5" fill="none"/><circle cx="1723.6" cy="1298.2" r="10.3" fill="#b2b2b2" stroke="#1c1c1c" stroke-width="2.6"/>
<path d="M1726 1288V1316M1712.5 1288h27M1712.5 1316h27" stroke="#303030" stroke-opacity="0.82" stroke-width="2.5" fill="none"/><circle cx="1726" cy="1302" r="10.3" fill="#b2b2b2" stroke="#1c1c1c" stroke-width="2.6"/>
<path d="M1732.1 1312V1336M1718.6 1312h27M1718.6 1336h27" stroke="#303030" stroke-opacity="0.82" stroke-width="2.5" fill="none"/><circle cx="1732.1" cy="1323.8" r="10.3" fill="#b2b2b2" stroke="#1c1c1c" stroke-width="2.6"/>
<path d="M1730.7 1328V1354M1717.2 1328h27M1717.2 1354h27" stroke="#303030" stroke-opacity="0.82" stroke-width="2.5" fill="none"/><circle cx="1730.7" cy="1340.9" r="10.3" fill="#b2b2b2" stroke="#1c1c1c" stroke-width="2.6"/>
<path d="M1733 1320V1345M1719.5 1320h27M1719.5 1345h27" stroke="#303030" stroke-opacity="0.82" stroke-width="2.5" fill="none"/><circle cx="1733" cy="1332" r="10.3" fill="#b2b2b2" stroke="#1c1c1c" stroke-width="2.6"/>
<path d="M1720 1345V1370.8M1706.5 1345h27M1706.5 1370.8h27" stroke="#303030" stroke-opacity="0.82" stroke-width="2.5" fill="none"/><circle cx="1720" cy="1358" r="10.3" fill="#b2b2b2" stroke="#1c1c1c" stroke-width="2.6"/>
<path d="M1806.1 1321V1350M1792.6 1321h27M1792.6 1350h27" stroke="#303030" stroke-opacity="0.82" stroke-width="2.5" fill="none"/><circle cx="1806.1" cy="1338.1" r="10.3" fill="#b2b2b2" stroke="#1c1c1c" stroke-width="2.6"/>
<path d="M1813.2 1323V1347M1799.7 1323h27M1799.7 1347h27" stroke="#303030" stroke-opacity="0.82" stroke-width="2.5" fill="none"/><circle cx="1813.2" cy="1335.2" r="10.3" fill="#b2b2b2" stroke="#1c1c1c" stroke-width="2.6"/>
<path d="M1809 1324V1349M1795.5 1324h27M1795.5 1349h27" stroke="#303030" stroke-opacity="0.82" stroke-width="2.5" fill="none"/><circle cx="1809" cy="1337" r="10.3" fill="#b2b2b2" stroke="#1c1c1c" stroke-width="2.6"/>
<path d="M1821.7 1354V1376M1808.2 1354h27M1808.2 1376h27" stroke="#303030" stroke-opacity="0.82" stroke-width="2.5" fill="none"/><circle cx="1821.7" cy="1365.1" r="10.3" fill="#b2b2b2" stroke="#1c1c1c" stroke-width="2.6"/>
<path d="M1809.6 1370V1391M1796.1 1370h27M1796.1 1391h27" stroke="#303030" stroke-opacity="0.82" stroke-width="2.5" fill="none"/><circle cx="1809.6" cy="1380.7" r="10.3" fill="#b2b2b2" stroke="#1c1c1c" stroke-width="2.6"/>
<path d="M1883.4 1367.3V1394M1869.9 1367.3h27M1869.9 1394h27" stroke="#303030" stroke-opacity="0.82" stroke-width="2.5" fill="none"/><circle cx="1883.4" cy="1380.5" r="10.3" fill="#b2b2b2" stroke="#1c1c1c" stroke-width="2.6"/>
<path d="M1872.7 1393V1421M1859.2 1393h27M1859.2 1421h27" stroke="#303030" stroke-opacity="0.82" stroke-width="2.5" fill="none"/><circle cx="1872.7" cy="1406.8" r="10.3" fill="#b2b2b2" stroke="#1c1c1c" stroke-width="2.6"/>
<path d="M1875 1392V1418M1861.5 1392h27M1861.5 1418h27" stroke="#303030" stroke-opacity="0.82" stroke-width="2.5" fill="none"/><circle cx="1875" cy="1404" r="10.3" fill="#b2b2b2" stroke="#1c1c1c" stroke-width="2.6"/>
<path d="M1901.1 1385.5V1412.5M1887.6 1385.5h27M1887.6 1412.5h27" stroke="#303030" stroke-opacity="0.82" stroke-width="2.5" fill="none"/><circle cx="1901.1" cy="1399.7" r="10.3" fill="#b2b2b2" stroke="#1c1c1c" stroke-width="2.6"/>
<path d="M1898 1387V1413M1884.5 1387h27M1884.5 1413h27" stroke="#303030" stroke-opacity="0.82" stroke-width="2.5" fill="none"/><circle cx="1898" cy="1401" r="10.3" fill="#b2b2b2" stroke="#1c1c1c" stroke-width="2.6"/>
<path d="M1927.4 1396.1V1462.9M1913.9 1396.1h27M1913.9 1462.9h27" stroke="#303030" stroke-opacity="0.82" stroke-width="2.5" fill="none"/><circle cx="1927.4" cy="1428.1" r="10.3" fill="#b2b2b2" stroke="#1c1c1c" stroke-width="2.6"/>
<path d="M1927.4 1412.5V1455.8M1913.9 1412.5h27M1913.9 1455.8h27" stroke="#303030" stroke-opacity="0.82" stroke-width="2.5" fill="none"/><circle cx="1927.4" cy="1436" r="10.3" fill="#b2b2b2" stroke="#1c1c1c" stroke-width="2.6"/>
<path d="M1926 1411V1452M1912.5 1411h27M1912.5 1452h27" stroke="#303030" stroke-opacity="0.82" stroke-width="2.5" fill="none"/><circle cx="1926" cy="1431" r="10.3" fill="#b2b2b2" stroke="#1c1c1c" stroke-width="2.6"/>
<path d="M1977.2 1416V1497.8M1963.7 1416h27M1963.7 1497.8h27" stroke="#303030" stroke-opacity="0.82" stroke-width="2.5" fill="none"/><circle cx="1977.2" cy="1457.3" r="10.3" fill="#b2b2b2" stroke="#1c1c1c" stroke-width="2.6"/>
<path d="M1976 1427.4V1492M1962.5 1427.4h27M1962.5 1492h27" stroke="#303030" stroke-opacity="0.82" stroke-width="2.5" fill="none"/><circle cx="1976" cy="1460" r="10.3" fill="#b2b2b2" stroke="#1c1c1c" stroke-width="2.6"/>
<path d="M1978 1425V1486M1964.5 1425h27M1964.5 1486h27" stroke="#303030" stroke-opacity="0.82" stroke-width="2.5" fill="none"/><circle cx="1978" cy="1455" r="10.3" fill="#b2b2b2" stroke="#1c1c1c" stroke-width="2.6"/>
<path d="M1975 1430V1488M1961.5 1430h27M1961.5 1488h27" stroke="#303030" stroke-opacity="0.82" stroke-width="2.5" fill="none"/><circle cx="1975" cy="1458" r="10.3" fill="#b2b2b2" stroke="#1c1c1c" stroke-width="2.6"/>
<path d="M1979 1432V1490M1965.5 1432h27M1965.5 1490h27" stroke="#303030" stroke-opacity="0.82" stroke-width="2.5" fill="none"/><circle cx="1979" cy="1461" r="10.3" fill="#b2b2b2" stroke="#1c1c1c" stroke-width="2.6"/>
<path d="M1972.9 1472V1507M1959.4 1472h27M1959.4 1507h27" stroke="#303030" stroke-opacity="0.82" stroke-width="2.5" fill="none"/><circle cx="1972.9" cy="1490" r="10.3" fill="#b2b2b2" stroke="#1c1c1c" stroke-width="2.6"/>
<path d="M1979 1481V1497.8M1965.5 1481h27M1965.5 1497.8h27" stroke="#303030" stroke-opacity="0.82" stroke-width="2.5" fill="none"/><circle cx="1979" cy="1488" r="10.3" fill="#b2b2b2" stroke="#1c1c1c" stroke-width="2.6"/>
<path d="M2095.2 1479.3V1507.7M2081.7 1479.3h27M2081.7 1507.7h27" stroke="#303030" stroke-opacity="0.82" stroke-width="2.5" fill="none"/><circle cx="2095.2" cy="1493.5" r="10.3" fill="#b2b2b2" stroke="#1c1c1c" stroke-width="2.6"/>
<path d="M2096 1481V1506M2082.5 1481h27M2082.5 1506h27" stroke="#303030" stroke-opacity="0.82" stroke-width="2.5" fill="none"/><circle cx="2096" cy="1494" r="10.3" fill="#b2b2b2" stroke="#1c1c1c" stroke-width="2.6"/>
<path d="M1487.8 1143.3h2.4M1487.8 1135.8v15.0M1490.2 1135.8v15.0M1470.6 1169.6h4M1470.6 1162.1v15.0M1474.6 1162.1v15.0M1471.5 1172h5M1471.5 1164.5v15.0M1476.5 1164.5v15.0M1481.1 1183.8h3M1481.1 1176.3v15.0M1484.1 1176.3v15.0M1473.5 1198h4M1473.5 1190.5v15.0M1477.5 1190.5v15.0M1481.1 1210.1h3M1481.1 1202.6v15.0M1484.1 1202.6v15.0M1464.9 1226.5h4M1464.9 1219v15.0M1468.9 1219v15.0M1456.2 1239.3h10M1456.2 1231.8v15.0M1466.2 1231.8v15.0M1562.5 1163.9h5M1562.5 1156.4v15.0M1567.5 1156.4v15.0M1565 1161h4M1565 1153.5v15.0M1569 1153.5v15.0M1552.6 1185.3h12M1552.6 1177.8v15.0M1564.6 1177.8v15.0M1568.2 1202.3h5M1568.2 1194.8v15.0M1573.2 1194.8v15.0M1566.3 1210.9h6M1566.3 1203.4v15.0M1572.3 1203.4v15.0M1564.9 1252.1h3M1564.9 1244.6v15.0M1567.9 1244.6v15.0M1611.8 1257.8h6M1611.8 1250.3v15.0M1617.8 1250.3v15.0M1620.8 1269.2h5M1620.8 1261.7v15.0M1625.8 1261.7v15.0M1616.1 1279.1h6M1616.1 1271.6v15.0M1622.1 1271.6v15.0M1611.5 1262.7h8M1611.5 1255.2v15.0M1619.5 1255.2v15.0M1617.9 1371.5h2.4M1617.9 1364v15.0M1620.3 1364v15.0M1674.8 1282.6h3M1674.8 1275.1v15.0M1677.8 1275.1v15.0M1718.6 1298.2h10M1718.6 1290.7v15.0M1728.6 1290.7v15.0M1722 1302h8M1722 1294.5v15.0M1730 1294.5v15.0M1728.1 1323.8h8M1728.1 1316.3v15.0M1736.1 1316.3v15.0M1726.2 1340.9h9M1726.2 1333.4v15.0M1735.2 1333.4v15.0M1729.5 1332h7M1729.5 1324.5v15.0M1736.5 1324.5v15.0M1712 1358h16M1712 1350.5v15.0M1728 1350.5v15.0M1801.1 1338.1h10M1801.1 1330.6v15.0M1811.1 1330.6v15.0M1808.2 1335.2h10M1808.2 1327.7v15.0M1818.2 1327.7v15.0M1803 1337h12M1803 1329.5v15.0M1815 1329.5v15.0M1817.2 1365.1h9M1817.2 1357.6v15.0M1826.2 1357.6v15.0M1807.6 1380.7h4M1807.6 1373.2v15.0M1811.6 1373.2v15.0M1879.9 1380.5h7M1879.9 1373v15.0M1886.9 1373v15.0M1866.7 1406.8h12M1866.7 1399.3v15.0M1878.7 1399.3v15.0M1871 1404h8M1871 1396.5v15.0M1879 1396.5v15.0M1896.1 1399.7h10M1896.1 1392.2v15.0M1906.1 1392.2v15.0M1891.5 1401h13M1891.5 1393.5v15.0M1904.5 1393.5v15.0M1922.4 1428.1h10M1922.4 1420.6v15.0M1932.4 1420.6v15.0M1921.4 1436h12M1921.4 1428.5v15.0M1933.4 1428.5v15.0M1922 1431h8M1922 1423.5v15.0M1930 1423.5v15.0M1957.2 1457.3h40M1957.2 1449.8v15.0M1997.2 1449.8v15.0M1969 1460h14M1969 1452.5v15.0M1983 1452.5v15.0M1969 1455h18M1969 1447.5v15.0M1987 1447.5v15.0M1970 1458h10M1970 1450.5v15.0M1980 1450.5v15.0M1968 1461h22M1968 1453.5v15.0M1990 1453.5v15.0M1970.4 1490h5M1970.4 1482.5v15.0M1975.4 1482.5v15.0M1974 1488h10M1974 1480.5v15.0M1984 1480.5v15.0M2091.2 1493.5h8M2091.2 1486v15.0M2099.2 1486v15.0M2090 1494h12M2090 1486.5v15.0M2102 1486.5v15.0" stroke="#0a0a0a" stroke-width="2.6" fill="none"/>
<rect x="1401.4" y="1035.6" width="822.2" height="566.4" fill="none" stroke="#3a3a3a" stroke-width="2.6"/>
<path d="M1401.2 1602v8.5M1401.2 1035.6v-8.5M1563.2 1602v8.5M1563.2 1035.6v-8.5M1729.6 1602v8.5M1729.6 1035.6v-8.5M1892 1602v8.5M1892 1035.6v-8.5M2058.6 1602v8.5M2058.6 1035.6v-8.5M2223.5 1602v8.5M2223.5 1035.6v-8.5M1401.4 1602h-8.5M2223.6 1602h8.5M1401.4 1457h-8.5M2223.6 1457h8.5M1401.4 1318h-8.5M2223.6 1318h8.5M1401.4 1178h-8.5M2223.6 1178h8.5M1401.4 1035.6h-8.5M2223.6 1035.6h8.5" stroke="#3a3a3a" stroke-width="2.2" fill="none"/>
<text transform="translate(1400.8 1671.6) scale(1 1.015)" font-size="59.5" fill="#0d0d0d" text-anchor="middle">200</text>
<text transform="translate(1565.3 1671.6) scale(1 1.015)" font-size="59.5" fill="#0d0d0d" text-anchor="middle">400</text>
<text transform="translate(1729.8 1671.6) scale(1 1.015)" font-size="59.5" fill="#0d0d0d" text-anchor="middle">600</text>
<text transform="translate(1894.3 1671.6) scale(1 1.015)" font-size="59.5" fill="#0d0d0d" text-anchor="middle">800</text>
<text transform="translate(2058.8 1671.6) scale(1 1.015)" font-size="59.5" fill="#0d0d0d" text-anchor="middle">1000</text>
<text transform="translate(2223.3 1671.6) scale(1 1.015)" font-size="59.5" fill="#0d0d0d" text-anchor="middle">1200</text>
<text transform="translate(1383.6 1622.4) scale(1 1.015)" font-size="59.5" fill="#0d0d0d" text-anchor="end">0</text>
<text transform="translate(1383.6 1477.4) scale(1 1.015)" font-size="59.5" fill="#0d0d0d" text-anchor="end">20</text>
<text transform="translate(1383.6 1338.4) scale(1 1.015)" font-size="59.5" fill="#0d0d0d" text-anchor="end">40</text>
<text transform="translate(1383.6 1198.4) scale(1 1.015)" font-size="59.5" fill="#0d0d0d" text-anchor="end">60</text>
<text transform="translate(1383.6 1056) scale(1 1.015)" font-size="59.5" fill="#0d0d0d" text-anchor="end">80</text>
<text transform="translate(1808.2 1734) scale(1 1.015)" font-size="59.4" fill="#0d0d0d" text-anchor="middle">Expander speed [rpm]</text>
<text transform="translate(1809.3 987.4)" font-size="64.3" fill="#000" text-anchor="middle" font-weight="bold">Expander torque</text>
<text transform="translate(1286 1320.8) rotate(-90) scale(1 1.015)" font-size="60.3" fill="#0d0d0d" text-anchor="middle">Torque [Nm]</text>
<rect x="1761" y="1050.5" width="450" height="91.5" fill="#fff" stroke="#2e2e2e" stroke-width="2.4"/>
<circle cx="1823.3" cy="1095.5" r="10.4" fill="#b2b2b2" stroke="#404040" stroke-width="2"/>
<text transform="translate(1761 1117.2) scale(1 1.015)" font-size="59.5" fill="#0d0d0d"><tspan x="114.6" y="0">Data </tspan><tspan x="259.7" y="0">(</tspan><tspan x="278.8" y="2.5" font-family="'Liberation Serif', 'DejaVu Serif', serif" font-size="61">μ </tspan><tspan x="329" y="2.5" font-family="'Liberation Serif', 'DejaVu Serif', serif" font-size="61">± </tspan><tspan x="381" y="2.5" font-family="'Liberation Serif', 'DejaVu Serif', serif" font-size="64">σ</tspan><tspan x="420" y="0">)</tspan></text>
<text transform="translate(2190.7 1584) scale(1 1.015)" font-size="57" fill="#0d0d0d" text-anchor="end"><tspan font-style="italic">ε</tspan>=13</text>
</g>
</svg></body></html>
